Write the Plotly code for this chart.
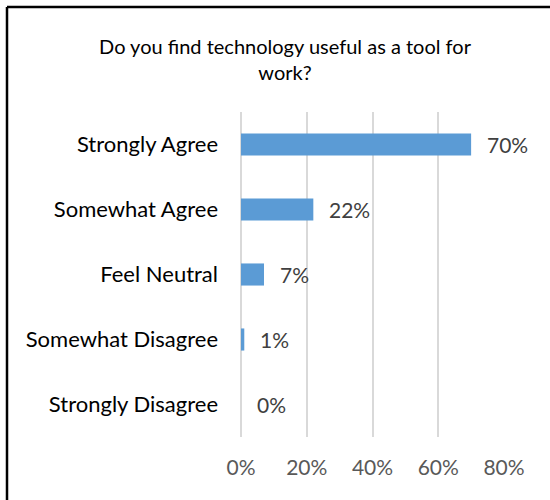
import plotly.graph_objects as go

# Survey responses: share of respondents per answer
categories = ["Strongly Agree", "Somewhat Agree", "Feel Neutral",
              "Somewhat Disagree", "Strongly Disagree"]
shares = [0.70, 0.22, 0.07, 0.01, 0.00]
x_ticks = [0, 0.2, 0.4, 0.6, 0.8]
x_tick_labels = ["0%", "20%", "40%", "60%", "80%"]
title_text = "Do you find technology useful as a tool for<br>work?"

W, H = 550, 500
L, R, T, B = 241, 46, 112, 63
plot_w = W - L - R
plot_h = H - T - B

FONT = "Lato, Carlito, Calibri, sans-serif"

fig = go.Figure()
fig.add_trace(go.Bar(
    x=shares,
    y=categories,
    orientation="h",
    marker=dict(color="#5B9BD5", line=dict(width=0)),
    hoverinfo="skip",
))

# value labels just right of each bar end
for c, v in zip(categories, shares):
    fig.add_annotation(
        x=v, y=c, xref="x", yref="y",
        text=f"{round(v * 100)}%",
        showarrow=False, xanchor="left", xshift=14,
        font=dict(family=FONT, size=21, color="#404040"),
    )

# frame line along the top and left edges of the chart
def px_x(px):
    return (px - L) / plot_w

def px_y(py):
    return (H - B - py) / plot_h

fig.add_shape(type="line", xref="paper", yref="paper",
              x0=px_x(7), x1=px_x(W + 5), y0=px_y(7), y1=px_y(7),
              line=dict(color="black", width=2.5))
fig.add_shape(type="line", xref="paper", yref="paper",
              x0=px_x(7), x1=px_x(7), y0=px_y(7), y1=px_y(H + 5),
              line=dict(color="black", width=2.5))

fig.update_layout(
    width=W, height=H,
    margin=dict(l=L, r=R, t=T, b=B),
    paper_bgcolor="white", plot_bgcolor="white",
    showlegend=False,
    bargap=0.66,
    title=dict(
        text=title_text,
        x=285 / W, xanchor="center", xref="container",
        y=1 - 54 / H, yanchor="middle", yref="container",
        font=dict(family=FONT, size=20, color="#000000"),
    ),
    xaxis=dict(
        range=[0, 0.8],
        tickvals=x_ticks, ticktext=x_tick_labels,
        showgrid=True, gridcolor="#D9D9D9", gridwidth=1.5,
        zeroline=True, zerolinecolor="#D9D9D9", zerolinewidth=1.5,
        showline=False,
        ticks="", ticklabelstandoff=16,
        tickfont=dict(family=FONT, size=21, color="#595959"),
        fixedrange=True,
    ),
    yaxis=dict(
        categoryorder="array", categoryarray=categories[::-1],
        showgrid=False, zeroline=False, showline=False,
        ticks="", ticklabelstandoff=22,
        tickfont=dict(family=FONT, size=22, color="#000000"),
        fixedrange=True,
    ),
)

fig.write_html("out.html")
